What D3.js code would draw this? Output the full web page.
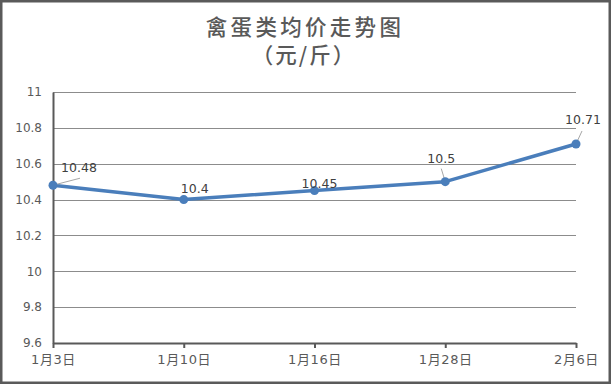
<!DOCTYPE html>
<html><head><meta charset="utf-8">
<script src="https://cdn.jsdelivr.net/npm/d3@7"></script>
<style>
html,body{margin:0;padding:0;background:#fff;}
svg{display:block;}
</style></head>
<body>
<svg id="chart" width="612" height="384"></svg>
<script>
const categories = ["1月3日","1月10日","1月16日","1月28日","2月6日"];
const values = [10.48, 10.4, 10.45, 10.5, 10.71];
const yTicks = [9.6, 9.8, 10, 10.2, 10.4, 10.6, 10.8, 11];
const titleLines = ["禽蛋类均价走势图", "（元/斤）"];
// label offsets relative to point (dx, dy of text center/baseline), and leader ends
const labelOffsets = [[26, -13], [11, -7], [5, -3], [-4, -19], [7, -20]];
const leaderEnds = [[27, -7], null, null, [-4, -13], [6, -13]];

const svg = d3.select("#chart");
const W = 612, H = 384;
const m = {left: 53, right: 36, top: 92, bottom: 41};
const x = d3.scalePoint().domain(categories).range([m.left, W - m.right]).padding(0);
const y = d3.scaleLinear().domain([9.6, 11]).range([H - m.bottom, m.top]);

svg.append("rect").attr("x", 1.25).attr("y", 1.25).attr("width", W - 3.5).attr("height", H - 2.5)
  .attr("fill", "#fff").attr("stroke", "#5a5a5a").attr("stroke-width", 2.5);

const title = svg.append("g").attr("font-family", "'Noto Sans CJK SC', sans-serif")
  .attr("fill", "#595959").attr("text-anchor", "middle").attr("font-weight", 500);
title.append("text").attr("x", 305).attr("y", 35).attr("font-size", 21.5).attr("letter-spacing", 3.3).text(titleLines[0]);
title.append("text").attr("x", 304).attr("y", 63).attr("font-size", 21.5).attr("letter-spacing", 2).text(titleLines[1]);

// grid
svg.append("g").selectAll("line").data(yTicks.filter(d => d > 9.6)).join("line")
  .attr("x1", m.left).attr("x2", W - m.right)
  .attr("y1", d => Math.round(y(d)) + 0.5).attr("y2", d => Math.round(y(d)) + 0.5)
  .attr("stroke", "#8c8c8c").attr("stroke-width", 1);

// y axis
const yAxis = svg.append("g").attr("transform", `translate(${m.left},0)`)
  .call(d3.axisLeft(y).tickValues(yTicks).tickSize(0).tickPadding(11).tickFormat(d => String(+d.toFixed(1))));
yAxis.select(".domain").attr("stroke", "#595959").attr("stroke-width", 2);
yAxis.selectAll("text").attr("font-family", "'DejaVu Sans', sans-serif").attr("font-size", 12).attr("fill", "#595959");

// x axis
const xAxis = svg.append("g").attr("transform", `translate(0,${H - m.bottom})`)
  .call(d3.axisBottom(x).tickSize(5).tickSizeOuter(0).tickPadding(7));
xAxis.select(".domain").attr("stroke", "#595959").attr("stroke-width", 2);
xAxis.selectAll(".tick line").attr("stroke", "#595959").attr("stroke-width", 2);
xAxis.selectAll("text").attr("font-family", "'DejaVu Sans', 'Noto Sans CJK SC', sans-serif")
  .attr("font-size", 13).attr("letter-spacing", 0.6).attr("fill", "#595959");

// line
svg.append("path").datum(values)
  .attr("d", d3.line().x((d, i) => x(categories[i])).y(d => y(d)))
  .attr("fill", "none").attr("stroke", "#4a7ebb").attr("stroke-width", 3.5).attr("stroke-linejoin", "round");

// leaders
svg.append("g").selectAll("line").data(values.map((v, i) => ({v, i})).filter(d => leaderEnds[d.i])).join("line")
  .attr("x1", d => x(categories[d.i])).attr("y1", d => y(d.v))
  .attr("x2", d => x(categories[d.i]) + leaderEnds[d.i][0]).attr("y2", d => y(d.v) + leaderEnds[d.i][1])
  .attr("stroke", "#a6a6a6").attr("stroke-width", 1);

svg.append("g").selectAll("circle").data(values).join("circle")
  .attr("cx", (d, i) => x(categories[i])).attr("cy", d => y(d)).attr("r", 4.5)
  .attr("fill", "#4a7ebb");

svg.append("g").selectAll("text").data(values).join("text")
  .attr("x", (d, i) => x(categories[i]) + labelOffsets[i][0])
  .attr("y", (d, i) => y(d) + labelOffsets[i][1])
  .attr("text-anchor", "middle")
  .attr("font-family", "'DejaVu Sans', sans-serif").attr("font-size", 12.5).attr("fill", "#404040")
  .text(d => d);
</script>
</body></html>
